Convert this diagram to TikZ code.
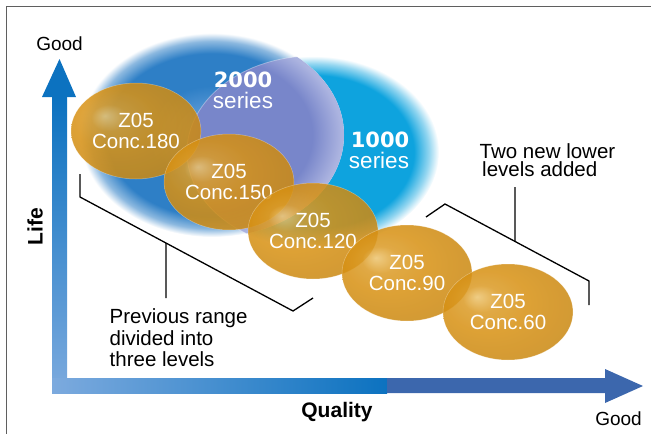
\documentclass[tikz,border=0pt]{standalone}
\usepackage{fontspec}
\setmainfont{Liberation Sans}
\newfontfamily\numfont{DejaVu Sans}
\usetikzlibrary{shapes.geometric}

\definecolor{frameg}{RGB}{95,95,95}
\definecolor{axdark}{RGB}{12,114,192}
\definecolor{axlight}{RGB}{124,170,222}
\definecolor{axsteel}{RGB}{60,103,173}
\definecolor{bluemid}{RGB}{46,127,198}
\definecolor{bluelight}{RGB}{128,176,228}
\definecolor{cyanb}{RGB}{14,163,222}
\definecolor{lav}{RGB}{120,134,202}
\definecolor{lavlight}{RGB}{172,180,224}
\definecolor{orng}{RGB}{215,145,20}
\definecolor{orhi}{RGB}{236,196,112}

\pgfdeclareradialshading{shtwo}{\pgfpoint{0bp}{0bp}}{color(0bp)=(bluelight); color(12bp)=(bluemid); color(20bp)=(bluemid); color(23bp)=(bluemid!55!white); color(25bp)=(white); color(50bp)=(white)}
\pgfdeclareradialshading{shone}{\pgfpoint{0bp}{0bp}}{color(0bp)=(cyanb); color(20bp)=(cyanb); color(23bp)=(cyanb!45!white); color(25bp)=(white); color(50bp)=(white)}
\pgfdeclareradialshading{shlav}{\pgfpoint{0bp}{0bp}}{color(0bp)=(lav); color(19bp)=(lav); color(24.5bp)=(lavlight); color(50bp)=(lavlight)}
\pgfdeclareradialshading{shorange}{\pgfpoint{-12bp}{8bp}}{color(0bp)=(orhi); color(7bp)=(orng!80!orhi); color(16bp)=(orng); color(36bp)=(orng!92!black); color(50bp)=(orng!92!black)}

\begin{document}
\begin{tikzpicture}[x=1pt,y=-1pt,
  zball/.style={ellipse, minimum width=130pt, minimum height=96pt, inner sep=0pt,
    shade, shading=shorange, fill opacity=0.86, text opacity=1,
    draw=white, draw opacity=0.35, line width=0.5pt,
    text=white, align=center, font=\fontsize{20.5}{21.5}\selectfont},
  lbl/.style={inner sep=0pt, font=\fontsize{20.5}{21.5}\selectfont},
  ser/.style={inner sep=0pt, text=white, anchor=base, font=\fontsize{22.5}{22.5}\selectfont},
  num/.style={inner sep=0pt, text=white, anchor=base, font=\numfont\bfseries\fontsize{21}{21}\selectfont},
  axlbl/.style={inner sep=0pt, anchor=base, font=\fontsize{19}{19}\selectfont},
  axname/.style={inner sep=0pt, font=\bfseries\fontsize{21}{21}\selectfont},
  brk/.style={black, line width=1.3pt}]
\useasboundingbox (0,0) rectangle (651,434);

% frame
\draw[frameg, line width=1.3pt] (651,6.5) -- (6.5,6.5) -- (6.5,434);

% blue series ellipses
\shade[shading=shone] (313,152) ellipse [x radius=126, y radius=96];
\shade[shading=shtwo] (212,135) ellipse [x radius=132, y radius=102];
\begin{scope}
  \clip (313,152) ellipse [x radius=126, y radius=96];
  \shade[shading=shlav] (212,135) ellipse [x radius=132, y radius=102];
\end{scope}
\begin{scope}
  \clip (212,135) ellipse [x radius=132, y radius=102];
  \draw[white, opacity=0.35, line width=0.8pt] (313,152) ellipse [x radius=126, y radius=96];
\end{scope}

\node[num] (n2000) at (243,87) {2000};
\node[ser] (s2000) at (243,108) {series};
\node[num] (n1000) at (380,147) {1000};
\node[ser] (s1000) at (379,168) {series};

% orange levels
\node[zball] (c180) at (136,131) {Z05\\Conc.180};
\node[zball] (c150) at (229,182) {Z05\\Conc.150};
\node[zball] (c120) at (313,231) {Z05\\Conc.120};
\node[zball] (c90)  at (407,273) {Z05\\Conc.90};
\node[zball] (c60)  at (508,312) {Z05\\Conc.60};

% left bracket
\coordinate (la) at (80,174);
\coordinate (lb) at (80,197);
\coordinate (lc) at (293,311);
\coordinate (ld) at (313,298);
\coordinate (lstemend) at (166,298);
\draw[brk] (la) -- (lb) -- coordinate[pos=0.4038] (lstem) (lc) -- (ld);
\draw[brk] (lstem) -- (lstemend);

% right bracket
\coordinate (ra) at (426,217);
\coordinate (rb) at (445,204);
\coordinate (rc) at (589,281);
\coordinate (rd) at (589,305);
\coordinate (rstemend) at (515,187);
\draw[brk] (ra) -- (rb) -- coordinate[pos=0.4861] (rstem) (rc) -- (rd);
\draw[brk] (rstem) -- (rstemend);

% annotations
\node[lbl, anchor=base west] (prevA) at (109.5,323) {Previous range};
\node[lbl, anchor=base west] (prevB) at (109.5,345) {divided into};
\node[lbl, anchor=base west] (prevC) at (109.5,366) {three levels};
\node[lbl, anchor=base west] (newA) at (479.5,158) {Two new lower};
\node[lbl, anchor=base west] (newB) at (482,176.5) {levels added};

% axes
\shade[top color=axdark, bottom color=axlight] (52,97) rectangle (67,393);
\fill[axdark] (42,97) -- (76,97) -- (59.5,59) -- cycle;
\shade[left color=axlight, right color=axdark] (52,378) rectangle (387,393);
\fill[axsteel] (387,378) -- (605,378) -- (605,369) -- (643,386) -- (605,403) -- (605,393) -- (387,393) -- cycle;

\node[axlbl] (goodtop) at (59.5,50) {Good};
\node[axlbl] (goodright) at (618.5,425.5) {Good};
\node[axname, rotate=90] (life) at (35,226.5) {Life};
\node[axname, anchor=base] (quality) at (337,417) {Quality};
\end{tikzpicture}
\end{document}
